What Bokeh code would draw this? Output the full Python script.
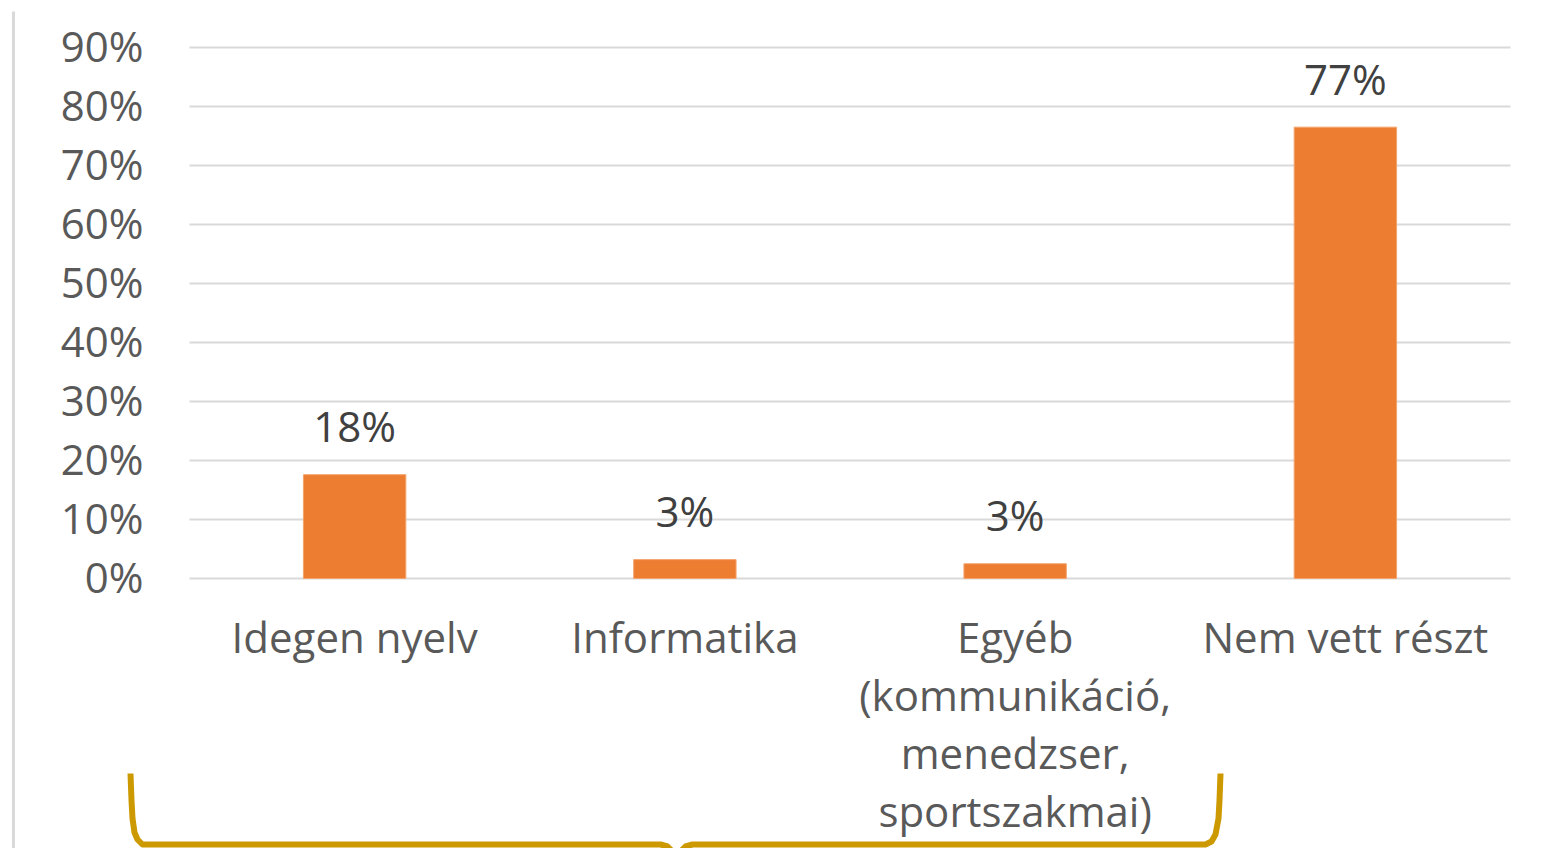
from bokeh.plotting import figure
from bokeh.models import Range1d
from bokeh.core.properties import value
from bokeh.embed import file_html
from bokeh.resources import INLINE

# ---- data ----
categories = ["Idegen nyelv", "Informatika",
              "Egyéb\n(kommunikáció,\nmenedzser,\nsportszakmai)", "Nem vett részt"]
shares = [0.176, 0.032, 0.025, 0.765]
share_labels = ["18%", "3%", "3%", "77%"]
y_ticks = [0.0, 0.1, 0.2, 0.3, 0.4, 0.5, 0.6, 0.7, 0.8, 0.9]
y_tick_labels = ["0%", "10%", "20%", "30%", "40%", "50%", "60%", "70%", "80%", "90%"]

# ---- layout (canvas pixels) ----
W, H = 1527, 848
PL, PR, PT, PB = 189, 1510, 47, 578
n = len(categories)
ux = (PR - PL) / n
ymax = y_ticks[-1]
uy = (PB - PT) / ymax


def X(px):
    return (px - PL) / ux


def Y(py):
    return (PB - py) / uy


FONT = value("Open Sans")
FS = "42px"

p = figure(width=W, height=H, output_backend="svg", toolbar_location=None,
           x_axis_location=None, y_axis_location=None,
           x_range=Range1d(X(0), X(W)), y_range=Range1d(Y(H), Y(0)),
           min_border=0, tools="")
p.grid.visible = False
p.outline_line_color = None
p.background_fill_color = "white"
p.border_fill_color = "white"

centers = [i + 0.5 for i in range(n)]

# gridlines
p.segment(x0=[0] * len(y_ticks), x1=[n] * len(y_ticks), y0=y_ticks, y1=y_ticks,
          line_color="#D9D9D9", line_width=2)

# bars
p.vbar(x=centers, top=shares, bottom=0, width=0.31,
       fill_color="#ED7D31", line_color="#F3A46E", line_width=1)

# y tick labels
p.text(x=[X(143)] * len(y_ticks), y=[t + 2 / uy for t in y_ticks], text=y_tick_labels,
       text_align="right", text_baseline="alphabetic",
       text_font=FONT, text_font_size=FS, text_color="#595959")

# data labels
p.text(x=centers, y=[v + 49 / uy for v in shares], text=share_labels,
       text_align="center", text_baseline="alphabetic",
       text_font=FONT, text_font_size=FS, text_color="#404040")

# category labels (one row per line)
lx, ly, lt = [], [], []
for c, cat in zip(centers, categories):
    for j, line in enumerate(cat.split("\n")):
        lx.append(c)
        ly.append(Y(636 + 58 * j))
        lt.append(line)
p.text(x=lx, y=ly, text=lt, text_align="center", text_baseline="alphabetic",
       text_font=FONT, text_font_size=FS, text_color="#595959")

# left frame border of the slide box
p.segment(x0=[X(13)], x1=[X(13)], y0=[Y(11)], y1=[Y(H)], line_color="#D9D9D9", line_width=3)

# curly bracket grouping the first three categories
bx = [130, 131, 132, 134, 137, 142, 660, 667, 671, 674,
      678, 681, 685, 692, 1205, 1211, 1215, 1218, 1219, 1220]
by = [773, 800, 818, 832, 839, 844, 844, 846, 850, 858,
      858, 850, 846, 844, 844, 841, 834, 818, 800, 773]
p.line(x=[X(v) for v in bx], y=[Y(v) for v in by], line_color="#CC9A00",
       line_width=6, line_join="round", line_cap="butt")

open("out.html", "w").write(file_html(p, INLINE))
